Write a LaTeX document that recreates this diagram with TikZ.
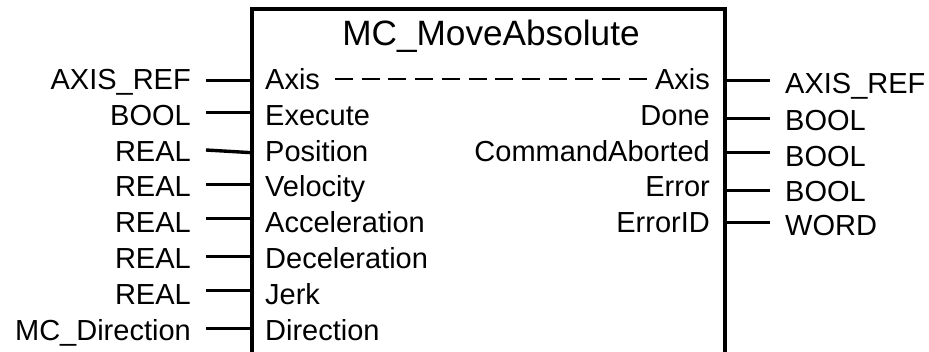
\documentclass[tikz,border=0pt]{standalone}
\usepackage{fontspec}
\setmainfont{Liberation Sans}
\begin{document}
\begin{tikzpicture}[x=1pt,y=-1pt,
  lbl/.style={inner sep=0pt,font=\fontsize{29}{34}\selectfont},
  ttl/.style={inner sep=0pt,font=\fontsize{35.2}{42}\selectfont},
  frame/.style={line width=4pt,line join=miter},
  stub/.style={line width=3.4pt},
  link/.style={line width=1.8pt,dash pattern=on 18pt off 8.7pt}]
\useasboundingbox (0,0) rectangle (929,351);

% function block outline (open at the bottom)
\coordinate (bl) at (252,356);
\coordinate (tl) at (252,9);
\coordinate (tr) at (724.5,9);
\coordinate (br) at (724.5,356);
\draw[frame] (bl) -- (tl) -- (tr) -- (br);

\node[ttl,anchor=base] (title) at (491,45) {MC\_MoveAbsolute};

% inputs: type, pin name, stub
\foreach \n/\typ/\pin/\yb/\ya/\yc in {
  1/AXIS\_REF/Axis/89.5/80.7/80.7,
  2/BOOL/Execute/125.3/112.7/112.7,
  3/REAL/Position/161.1/150/152.7,
  4/REAL/Velocity/196.9/184.7/184.7,
  5/REAL/Acceleration/232.7/218.3/218.3,
  6/REAL/Deceleration/268.5/256.7/256.7,
  7/REAL/Jerk/304.3/290.7/290.7,
  8/MC\_Direction/Direction/340.1/328.7/328.7}{
  \node[lbl,anchor=base east] (tin\n) at (191,\yb) {\typ};
  \node[lbl,anchor=base west] (pin\n) at (265,\yb) {\pin};
  \coordinate (sin\n) at (206,\ya);
  \coordinate (ein\n) at (252,\yc);
  \draw[stub] (sin\n) -- (ein\n);
}

% outputs: pin name, stub, type
\foreach \n/\pin/\typ/\yb/\ys/\yt in {
  1/Axis/AXIS\_REF/89.5/80.7/93,
  2/Done/BOOL/125.3/118.7/130,
  3/CommandAborted/BOOL/161.1/152.7/166,
  4/Error/BOOL/196.9/190.7/201.5,
  5/ErrorID/WORD/232.7/222.7/235}{
  \node[lbl,anchor=base east] (pout\n) at (710,\yb) {\pin};
  \node[lbl,anchor=base west] (tout\n) at (785,\yt) {\typ};
  \coordinate (sout\n) at (724.5,\ys);
  \coordinate (eout\n) at (770,\ys);
  \draw[stub] (sout\n) -- (eout\n);
}

% the Axis reference passes through the block
\coordinate (dashA) at (335,79);
\coordinate (dashB) at (649,79);
\draw[link] (dashA) -- (dashB);
\end{tikzpicture}
\end{document}
